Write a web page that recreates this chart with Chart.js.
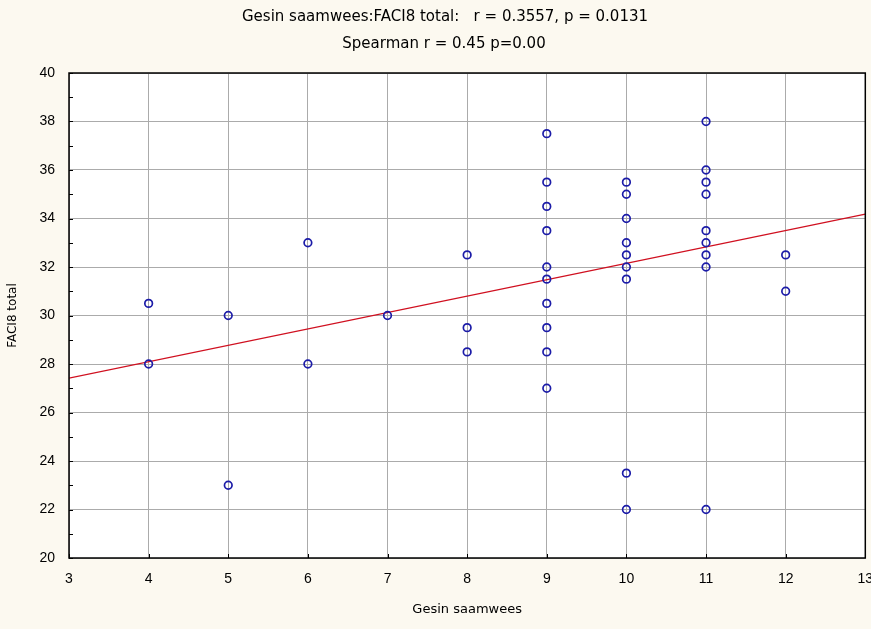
<!DOCTYPE html>
<html>
<head>
<meta charset="utf-8">
<script src="https://cdn.jsdelivr.net/npm/chart.js@4"></script>
<style>
  html, body { margin: 0; padding: 0; background: #fcf9f0; }
  #wrap { width: 871px; height: 629px; }
</style>
</head>
<body>
<div id="wrap"><canvas id="chart" width="871" height="629"></canvas></div>
<script>
// values
const xValues = [4, 4, 5, 5, 6, 6, 7, 8, 8, 8,
    9, 9, 9, 9, 9, 9, 9, 9, 9, 9,
    10, 10, 10, 10, 10, 10, 10, 10, 10,
    11, 11, 11, 11, 11, 11, 11, 11, 11,
    12, 12];
const yValues = [30.5, 28, 30, 23, 33, 28, 30, 32.5, 29.5, 28.5,
    37.5, 35.5, 34.5, 33.5, 32, 31.5, 30.5, 29.5, 28.5, 27,
    35.5, 35, 34, 33, 32.5, 32, 31.5, 23.5, 22,
    38, 36, 35.5, 35, 33.5, 33, 32.5, 32, 22,
    32.5, 31];
// fitted line ends, as drawn
const fitX = [3, 13];
const fitY = [27.42, 34.18];
const titleLines = ['Gesin saamwees:FACI8 total:   r = 0.3557, p = 0.0131', 'Spearman r = 0.45 p=0.00'];
const xLabel = 'Gesin saamwees';
const yLabel = 'FACI8 total';

const points = xValues.map((x, i) => ({ x: x, y: yValues[i] }));
const fitPoints = fitX.map((x, i) => ({ x: x, y: fitY[i] }));

const fontName = '"Liberation Sans", Arial, sans-serif';
const wideFont = '"DejaVu Sans", Verdana, sans-serif';

// white plot background, frame, inside ticks and the two title lines
const frame = {
    id: 'frame',
    beforeDraw(chart) {
        const a = chart.chartArea, ctx = chart.ctx;
        ctx.save();
        ctx.fillStyle = '#ffffff';
        ctx.fillRect(a.left, a.top, a.right - a.left, a.bottom - a.top);
        ctx.restore();
    },
    afterDraw(chart) {
        const a = chart.chartArea, ctx = chart.ctx;
        const ys = chart.scales.y, xs = chart.scales.x;
        ctx.save();
        ctx.strokeStyle = '#000000';
        ctx.lineWidth = 1.5;
        ctx.strokeRect(a.left, a.top, a.right - a.left, a.bottom - a.top);
        ctx.lineWidth = 1;
        ctx.beginPath();
        for (let v = 20; v <= 40; v++) {
            const py = Math.round(ys.getPixelForValue(v)) + 0.5;
            ctx.moveTo(a.left, py);
            ctx.lineTo(a.left + 4, py);
        }
        for (let v = 3; v <= 13; v++) {
            const px = Math.round(xs.getPixelForValue(v)) + 0.5;
            ctx.moveTo(px, a.bottom);
            ctx.lineTo(px, a.bottom - 4);
        }
        ctx.stroke();

        ctx.fillStyle = '#000000';
        ctx.font = '15px ' + wideFont;
        ctx.textAlign = 'center';
        ctx.textBaseline = 'middle';
        ctx.fillText(titleLines[0], 445, 17);
        ctx.fillText(titleLines[1], 444, 44);
        ctx.restore();
    }
};

new Chart(document.getElementById('chart'), {
    type: 'scatter',
    data: {
        datasets: [{
            type: 'line',
            data: fitPoints,
            borderColor: '#d01020',
            borderWidth: 1.2,
            pointRadius: 0,
            fill: false,
            order: 2
        }, {
            data: points,
            pointStyle: 'circle',
            pointRadius: 3.8,
            pointBorderWidth: 1.7,
            borderColor: '#1c1ca8',
            backgroundColor: 'rgba(0,0,0,0)',
            order: 1
        }]
    },
    options: {
        responsive: false,
        animation: false,
        layout: { padding: { left: 0, right: 5, top: 73, bottom: 0 } },
        plugins: {
            legend: { display: false },
            tooltip: { enabled: false },
            title: { display: false }
        },
        scales: {
            x: {
                type: 'linear',
                min: 3,
                max: 13,
                afterFit: s => { s.height = 71; s.paddingRight = 0; s.paddingLeft = 0; },
                ticks: { stepSize: 1, color: '#000000', padding: 13, font: { family: fontName, size: 14 } },
                grid: { color: '#ababab', lineWidth: 1, drawTicks: false },
                border: { display: false },
                title: { display: true, text: xLabel, color: '#000000', padding: { top: 4, bottom: 12 }, font: { family: wideFont, size: 13 } }
            },
            y: {
                min: 20,
                max: 40,
                afterFit: s => { s.width = 69; s.paddingTop = 0; s.paddingBottom = 0; },
                ticks: { stepSize: 2, color: '#000000', padding: 14, font: { family: fontName, size: 14 } },
                grid: { color: '#ababab', lineWidth: 1, drawTicks: false },
                border: { display: false },
                title: { display: true, text: yLabel, color: '#000000', padding: { top: 6 }, font: { family: wideFont, size: 12 } }
            }
        }
    },
    plugins: [frame]
});
</script>
</body>
</html>
